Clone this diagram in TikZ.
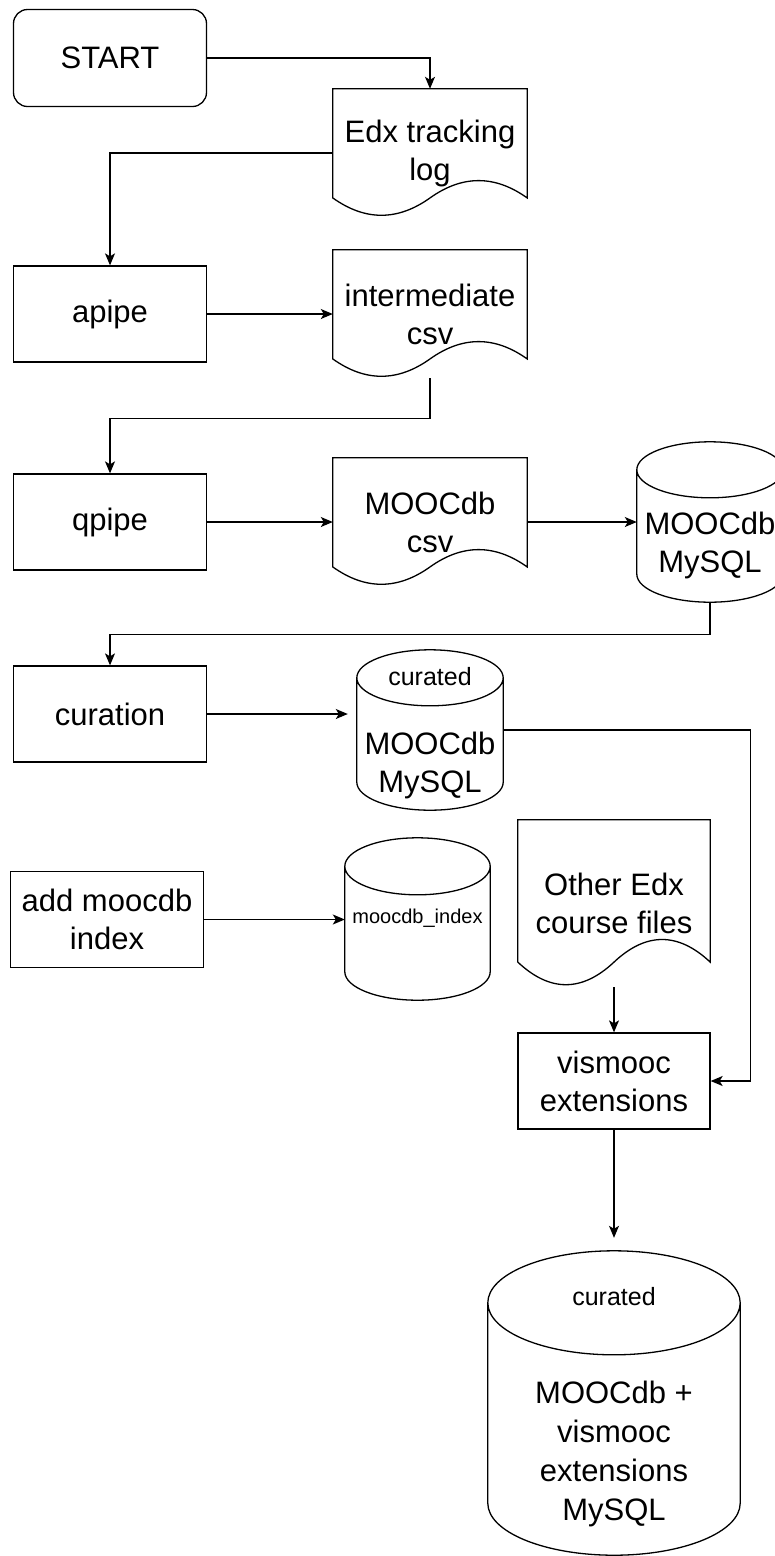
\documentclass[tikz,border=0pt]{standalone}
\usepackage{fontspec}
\setmainfont{Liberation Sans}
\usetikzlibrary{arrows.meta,calc}

% outline of a document node (wavy bottom)
\newcommand{\docoutline}[1]{%
  \path[OUTLINE] let \p1=(#1.north west), \p2=(#1.south east),
    \n1={0.3*(\y1-\y2)}, \n2={\x2-\x1} in
    (\x1,\y1) -- (\x2,\y1) -- (\x2,{\y2+0.5*\n1})
    .. controls ({\x1+5*\n2/6},{\y2+1.1*\n1}) and ({\x1+2*\n2/3},{\y2+1.1*\n1}) .. ({\x1+0.5*\n2},{\y2+0.5*\n1})
    .. controls ({\x1+\n2/3},{\y2-0.1*\n1}) and ({\x1+\n2/6},{\y2-0.1*\n1}) .. (\x1,{\y2+0.5*\n1}) -- cycle;}
% outline of a database node (cylinder), #2 = half height of the cap
\newcommand{\dboutline}[2]{%
  \path[OUTLINE] let \p1=(#1.north west), \p2=(#1.south east), \n1={(\x2-\x1)/2} in
    ({\x1+\n1*1pt},{\y1-#2pt}) ellipse[x radius={\n1*1pt},y radius=#2pt]
    (\x1,{\y1-#2pt}) -- (\x1,{\y2+#2pt})
    arc[start angle=180,end angle=360,x radius={\n1*1pt},y radius=#2pt]
    -- (\x2,{\y1-#2pt});}

\begin{document}
\begin{tikzpicture}[x=1pt,y=-1pt]
\tikzset{BASE/.style={align=center,inner sep=0pt,font=\fontsize{31}{38}\selectfont}}
\tikzset{TERMINAL/.style={BASE,draw,line width=1.3pt,rounded corners=14pt,minimum width=193pt,minimum height=97pt}}
\tikzset{PROCESS/.style={BASE,draw,line width=1.3pt,minimum width=193pt,minimum height=96pt}}
\tikzset{DOCUMENT/.style={BASE,minimum width=194pt,minimum height=128pt}}
\tikzset{DATABASE/.style={inner sep=0pt,minimum width=146pt,minimum height=160pt}}
\tikzset{SMALL/.style={inner sep=0pt,font=\fontsize{25}{30}\selectfont}}
\tikzset{OUTLINE/.style={draw,line width=1.3pt}}
\tikzset{FLOW/.style={draw,line width=1.3pt,-{Stealth[length=12pt,width=10pt,inset=3pt]}}}

\useasboundingbox (0,0) rectangle (774,1556);

\node[TERMINAL] (start) at (110,58) {START};
\node[DOCUMENT] (tracking log) at (430,153) {Edx tracking\\log};
\node[PROCESS] (apipe) at (110,314) {apipe};
\path (apipe) -- +(320,0) node[DOCUMENT] (intermediate csv) {intermediate\\csv};
\node[PROCESS] (qpipe) at (110,522) {qpipe};
\path (qpipe)
  -- +(320,0) node[DOCUMENT] (moocdb csv) {MOOCdb\\csv}
  -- +(600,0) node[DATABASE] (moocdb mysql) {};
\node[BASE] (moocdb mysql text) at (710,545) {MOOCdb\\MySQL};

\node[PROCESS] (curation) at (110,714) {curation};
\node[DATABASE] (curated db) at (430,730) {};
\node[SMALL] (curated db tag) at (430,677) {curated};
\node[BASE] (curated db text) at (430,765) {MOOCdb\\MySQL};

\node[PROCESS] (add index) at (107,919.5) {add moocdb\\index};
\node[DATABASE,minimum width=145pt,minimum height=162pt] (index db) at (417.5,919) {};
\node[inner sep=0pt,font=\fontsize{20}{24}\selectfont] (index db text) at (417.5,918) {moocdb\_index};

\node[DOCUMENT,minimum width=192pt,minimum height=167pt] (course files) at (614,903.5) {Other Edx\\course files};
\node[PROCESS,minimum width=192pt] (vismooc) at (614,1081) {vismooc\\extensions};

\node[DATABASE,minimum width=252pt,minimum height=304pt] (final db) at (614,1403) {};
\node[SMALL] (final db tag) at (614,1297) {curated};
\node[BASE,font=\fontsize{31}{39}\selectfont] (final db text) at (614,1454) {MOOCdb +\\vismooc\\extensions\\MySQL};

\docoutline{tracking log}
\docoutline{intermediate csv}
\docoutline{moocdb csv}
\docoutline{course files}
\dboutline{moocdb mysql}{28}
\dboutline{curated db}{28}
\dboutline{index db}{28.5}
\dboutline{final db}{52}

\path [FLOW] (start) -| (tracking log);
\path [FLOW] (tracking log) -| (apipe);
\path [FLOW] (apipe) -- (intermediate csv);
\path [FLOW] (intermediate csv.south) -- ++(0,40) -| (qpipe.north);
\path [FLOW] (qpipe) -- (moocdb csv);
\path [FLOW] (moocdb csv) -- (moocdb mysql);
\path [FLOW] (moocdb mysql.south) -- ++(0,32) -| (curation.north);
\path [FLOW,shorten >=9pt] (curation.east) -- (curation.east -| curated db.west);
\path [FLOW] (curated db.east) -- ++(247,0) |- (vismooc.east);
\path [FLOW] (add index.east) -- (add index.east -| index db.west);
\path [FLOW] (course files) -- (vismooc);
\path [FLOW,shorten >=13pt] (vismooc) -- (final db);

\end{tikzpicture}
\end{document}
